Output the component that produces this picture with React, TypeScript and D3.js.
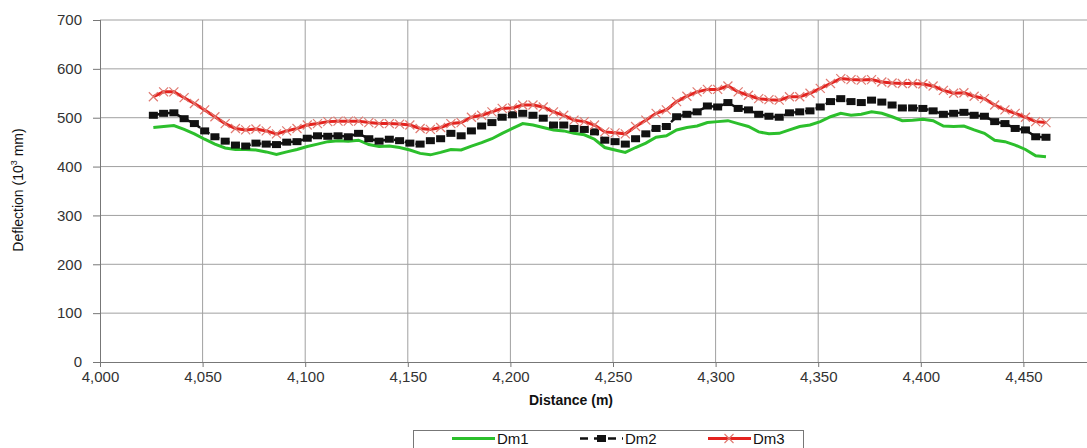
import React, { useRef, useEffect } from 'react';
import * as d3 from 'd3';

// distance (m) of each reading
const distances = [
  4026, 4031, 4036, 4041, 4046, 4051, 4056, 4061, 4066, 4071, 4076, 4081, 4086, 4091, 4096, 4101, 4106, 4111,
  4116, 4121, 4126, 4131, 4136, 4141, 4146, 4151, 4156, 4161, 4166, 4171, 4176, 4181, 4186, 4191, 4196, 4201,
  4206, 4211, 4216, 4221, 4226, 4231, 4236, 4241, 4246, 4251, 4256, 4261, 4266, 4271, 4276, 4281, 4286, 4291,
  4296, 4301, 4306, 4311, 4316, 4321, 4326, 4331, 4336, 4341, 4346, 4351, 4356, 4361, 4366, 4371, 4376, 4381,
  4386, 4391, 4396, 4401, 4406, 4411, 4416, 4421, 4426, 4431, 4436, 4441, 4446, 4451, 4456, 4461,
];

const dm1 = [
  480, 482, 484, 476, 467, 456, 446, 438, 435, 435, 434, 430, 425, 430, 435, 441, 446, 451,
  453, 452, 454, 445, 441, 442, 439, 434, 427, 424, 429, 435, 434, 442, 449, 457, 468, 478,
  488, 485, 480, 475, 473, 468, 465, 456, 439, 434, 429, 439, 448, 460, 463, 475, 480, 483,
  490, 492, 494, 488, 482, 471, 467, 468, 475, 482, 485, 492, 502, 509, 505, 507, 512, 509,
  502, 494, 495, 497, 494, 483, 482, 483, 475, 468, 454, 451, 444, 435, 422, 420,
];

const dm2 = [
  505, 509, 510, 498, 488, 473, 461, 452, 444, 442, 448, 446, 445, 450, 451, 458, 463, 462,
  463, 461, 468, 457, 452, 456, 453, 448, 446, 453, 457, 468, 463, 473, 483, 490, 501, 506,
  509, 505, 499, 485, 485, 478, 476, 471, 454, 451, 446, 457, 467, 478, 482, 502, 507, 512,
  524, 522, 531, 519, 516, 507, 503, 501, 510, 512, 514, 522, 533, 539, 533, 531, 536, 532,
  526, 520, 520, 519, 514, 507, 509, 511, 505, 503, 492, 488, 478, 475, 461, 460,
];

const dm3 = [
  543, 553, 553, 541, 529, 516, 502, 488, 478, 475, 477, 473, 467, 473, 478, 485, 488, 492,
  493, 493, 493, 490, 488, 488, 487, 485, 478, 476, 480, 488, 490, 501, 505, 512, 519, 520,
  526, 526, 522, 512, 505, 495, 492, 485, 471, 469, 467, 482, 495, 509, 516, 533, 544, 553,
  558, 558, 565, 553, 546, 539, 537, 536, 543, 543, 550, 560, 570, 580, 578, 577, 578, 573,
  571, 570, 570, 569, 565, 556, 550, 551, 544, 539, 526, 516, 509, 501, 492, 490,
];

const xTicks = [4000, 4050, 4100, 4150, 4200, 4250, 4300, 4350, 4400, 4450];
const yTicks = [0, 100, 200, 300, 400, 500, 600, 700];
const seriesNames = ['Dm1', 'Dm2', 'Dm3'];

const GREEN = '#2cbf2c';
const RED = '#e4231f';
const CROSS = '#e07a72';

const App = () => {
  const ref = useRef(null);

  useEffect(() => {
    const svg = d3.select(ref.current);
    svg.selectAll('*').remove();

    const left = 100;
    const top = 20;
    const bottom = 362;

    const x = d3.scaleLinear().domain([4000, 4500]).range([left, left + 1026]);
    const y = d3.scaleLinear().domain([0, 700]).range([bottom, top]);

    const narrow = '"Liberation Sans Narrow", "Liberation Sans", Arial, sans-serif';
    const font = '"Liberation Sans", Arial, sans-serif';

    // grid
    const grid = svg.append('g');
    grid
      .selectAll('line.h')
      .data(yTicks.filter((t) => t > 0))
      .enter()
      .append('line')
      .attr('x1', left)
      .attr('x2', 1087)
      .attr('y1', (d) => y(d))
      .attr('y2', (d) => y(d))
      .attr('stroke', '#a0a0a0')
      .attr('stroke-width', 1);
    grid
      .selectAll('line.v')
      .data(xTicks.filter((t) => t > 4000))
      .enter()
      .append('line')
      .attr('x1', (d) => x(d))
      .attr('x2', (d) => x(d))
      .attr('y1', top)
      .attr('y2', bottom)
      .attr('stroke', '#a0a0a0')
      .attr('stroke-width', 1);

    // axes
    const xAxis = d3
      .axisBottom(x)
      .tickValues(xTicks)
      .tickSize(5)
      .tickFormat((d) => d3.format(',')(d));
    const xg = svg.append('g').attr('transform', `translate(0, ${bottom})`).call(xAxis);
    xg.select('.domain').attr('d', `M${left},0.5H1087`).attr('stroke', '#777');
    xg.selectAll('.tick line').attr('stroke', '#777');
    xg.selectAll('text')
      .attr('font-family', font)
      .attr('font-size', 15)
      .attr('fill', '#333')
      .attr('dy', '0.8em');

    const yAxis = d3.axisLeft(y).tickValues(yTicks).tickSize(7).tickPadding(11);
    const yg = svg.append('g').attr('transform', `translate(${left}, 0)`).call(yAxis);
    yg.select('.domain').attr('d', `M0.5,${top}V${bottom}`).attr('stroke', '#777');
    yg.selectAll('.tick line').attr('stroke', '#777');
    yg.selectAll('text').attr('font-family', font).attr('font-size', 15).attr('fill', '#333');

    // axis titles
    svg
      .append('text')
      .attr('x', 571)
      .attr('y', 405)
      .attr('text-anchor', 'middle')
      .attr('font-family', narrow)
      .attr('font-weight', 'bold')
      .attr('font-size', 14)
      .attr('fill', '#111')
      .text('Distance (m)');

    const yt = svg
      .append('text')
      .attr('transform', `translate(23, 190) rotate(-90)`)
      .attr('text-anchor', 'middle')
      .attr('font-family', narrow)
      .attr('font-size', 14)
      .attr('fill', '#111');
    yt.append('tspan').text('Deflection (10');
    yt.append('tspan').attr('font-size', 9).attr('dy', -6).text('3');
    yt.append('tspan').attr('dy', 6).text(' mm)');

    const line = (vals) =>
      d3
        .line()
        .x((d, i) => x(distances[i]))
        .y((d) => y(d))(vals);

    // Dm1
    svg
      .append('path')
      .attr('d', line(dm1))
      .attr('fill', 'none')
      .attr('stroke', GREEN)
      .attr('stroke-width', 3);

    // Dm2
    svg
      .append('path')
      .attr('d', line(dm2))
      .attr('fill', 'none')
      .attr('stroke', '#111')
      .attr('stroke-width', 2.5)
      .attr('stroke-dasharray', '7,4');
    svg
      .append('g')
      .selectAll('rect')
      .data(dm2)
      .enter()
      .append('rect')
      .attr('x', (d, i) => x(distances[i]) - 4.5)
      .attr('y', (d) => y(d) - 3.5)
      .attr('width', 9)
      .attr('height', 7)
      .attr('fill', '#111');

    // Dm3
    svg
      .append('path')
      .attr('d', line(dm3))
      .attr('fill', 'none')
      .attr('stroke', RED)
      .attr('stroke-width', 3);
    const cross = (cx, cy, s) => `M${cx - s},${cy - s}L${cx + s},${cy + s}M${cx - s},${cy + s}L${cx + s},${cy - s}`;
    svg
      .append('g')
      .selectAll('path')
      .data(dm3)
      .enter()
      .append('path')
      .attr('d', (d, i) => cross(x(distances[i]), y(d), 4.5))
      .attr('stroke', CROSS)
      .attr('stroke-width', 1.2)
      .attr('fill', 'none');

    // legend
    const lg = svg.append('g');
    lg.append('rect')
      .attr('x', 413.5)
      .attr('y', 430.5)
      .attr('width', 390)
      .attr('height', 22)
      .attr('fill', '#fff')
      .attr('stroke', '#777');
    const items = [
      { name: seriesNames[0], x0: 452 },
      { name: seriesNames[1], x0: 580 },
      { name: seriesNames[2], x0: 708 },
    ];
    const ly = 438.5;
    items.forEach((it, k) => {
      if (k === 0) {
        lg.append('line').attr('x1', it.x0).attr('x2', it.x0 + 43).attr('y1', ly).attr('y2', ly)
          .attr('stroke', GREEN).attr('stroke-width', 3);
      } else if (k === 1) {
        lg.append('line').attr('x1', it.x0).attr('x2', it.x0 + 43).attr('y1', ly).attr('y2', ly)
          .attr('stroke', '#111').attr('stroke-width', 2.5).attr('stroke-dasharray', '8,6');
        lg.append('rect').attr('x', it.x0 + 17).attr('y', ly - 3.5).attr('width', 9).attr('height', 7).attr('fill', '#111');
      } else {
        lg.append('line').attr('x1', it.x0).attr('x2', it.x0 + 43).attr('y1', ly).attr('y2', ly)
          .attr('stroke', RED).attr('stroke-width', 3);
        lg.append('path').attr('d', cross(it.x0 + 21, ly, 4.5)).attr('stroke', CROSS).attr('stroke-width', 1.2);
      }
      lg.append('text')
        .attr('x', it.x0 + 45)
        .attr('y', ly + 5)
        .attr('font-family', font)
        .attr('font-size', 15)
        .attr('fill', '#111')
        .text(it.name);
    });
  }, []);

  return (
    <svg
      ref={ref}
      width={1087}
      height={448}
      style={{ position: 'absolute', left: 0, top: 0, background: '#fff' }}
    />
  );
};

export default App;
